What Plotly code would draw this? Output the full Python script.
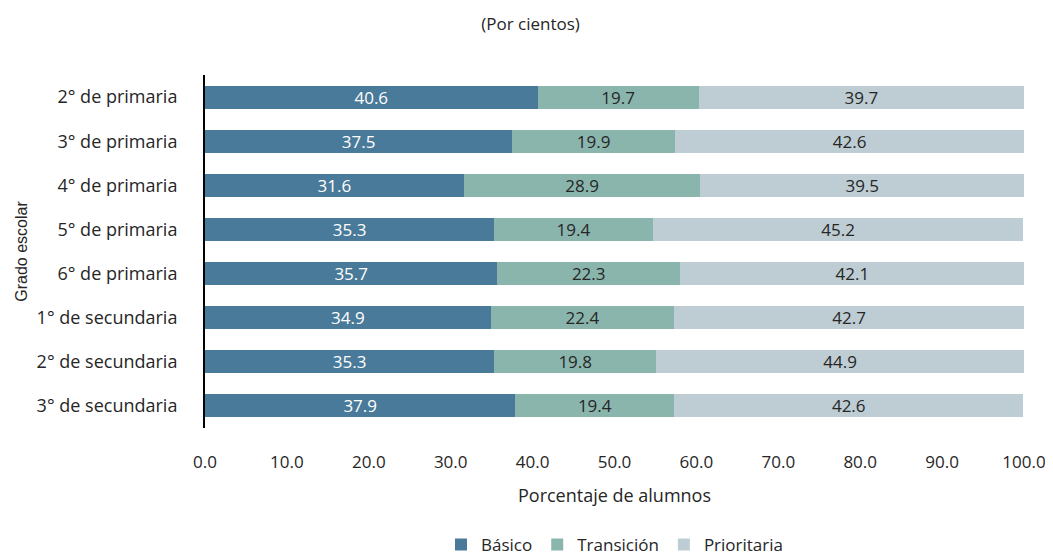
import plotly.graph_objects as go

grados = ["2° de primaria", "3° de primaria", "4° de primaria", "5° de primaria",
          "6° de primaria", "1° de secundaria", "2° de secundaria", "3° de secundaria"]
basico = [40.6, 37.5, 31.6, 35.3, 35.7, 34.9, 35.3, 37.9]
transicion = [19.7, 19.9, 28.9, 19.4, 22.3, 22.4, 19.8, 19.4]
prioritaria = [39.7, 42.6, 39.5, 45.2, 42.1, 42.7, 44.9, 42.6]
x_ticks = [0, 10, 20, 30, 40, 50, 60, 70, 80, 90, 100]

FONT = "Open Sans"
TXT = "#262626"
series = [
    ("Básico", basico, "#4a7a99", "white"),
    ("Transición", transicion, "#8ab5ad", TXT),
    ("Prioritaria", prioritaria, "#bdcdd3", TXT),
]

fig = go.Figure()
for name, vals, color, tcolor in series:
    fig.add_trace(go.Bar(
        y=grados, x=vals, name=name, orientation="h",
        marker=dict(color=color, line=dict(width=0)),
        text=[f"{v:.1f}" for v in vals], textposition="inside",
        insidetextanchor="middle", constraintext="none",
        textfont=dict(color=tcolor, size=17, family=FONT),
    ))

fig.update_layout(
    barmode="stack", bargap=0.48,
    width=1045, height=547,
    margin=dict(l=197, r=29, t=67, b=127, autoexpand=False),
    paper_bgcolor="white", plot_bgcolor="white",
    font=dict(family=FONT, color=TXT, size=17),
    title=dict(text="(Por cientos)", x=0.5, xref="container", xanchor="center",
               y=0.971, yref="container", yanchor="middle",
               font=dict(size=17, family=FONT, color=TXT)),
    showlegend=True,
    legend=dict(orientation="h", x=0.5, xanchor="center", y=-0.331, yanchor="middle",
                font=dict(size=17, family=FONT), traceorder="normal",
                itemwidth=30),
)
fig.update_xaxes(range=[0, 100], tickvals=x_ticks,
                 ticktext=[f"{t:.1f}" for t in x_ticks],
                 showgrid=False, zeroline=False, showline=False,
                 ticks="", ticklabelstandoff=22, automargin=False,
                 tickfont=dict(size=17, family=FONT),
                 title=dict(text="Porcentaje de alumnos", standoff=17,
                            font=dict(size=18, family=FONT)))
fig.update_yaxes(autorange="reversed", showgrid=False, zeroline=False,
                 showline=True, linecolor="black", linewidth=2,
                 ticks="", ticklabelstandoff=22, automargin=False,
                 tickfont=dict(size=18, family=FONT),
                 title=dict(text="Grado escolar", standoff=5,
                            font=dict(size=16, family="Liberation Sans")))

fig.write_html("out.html")
